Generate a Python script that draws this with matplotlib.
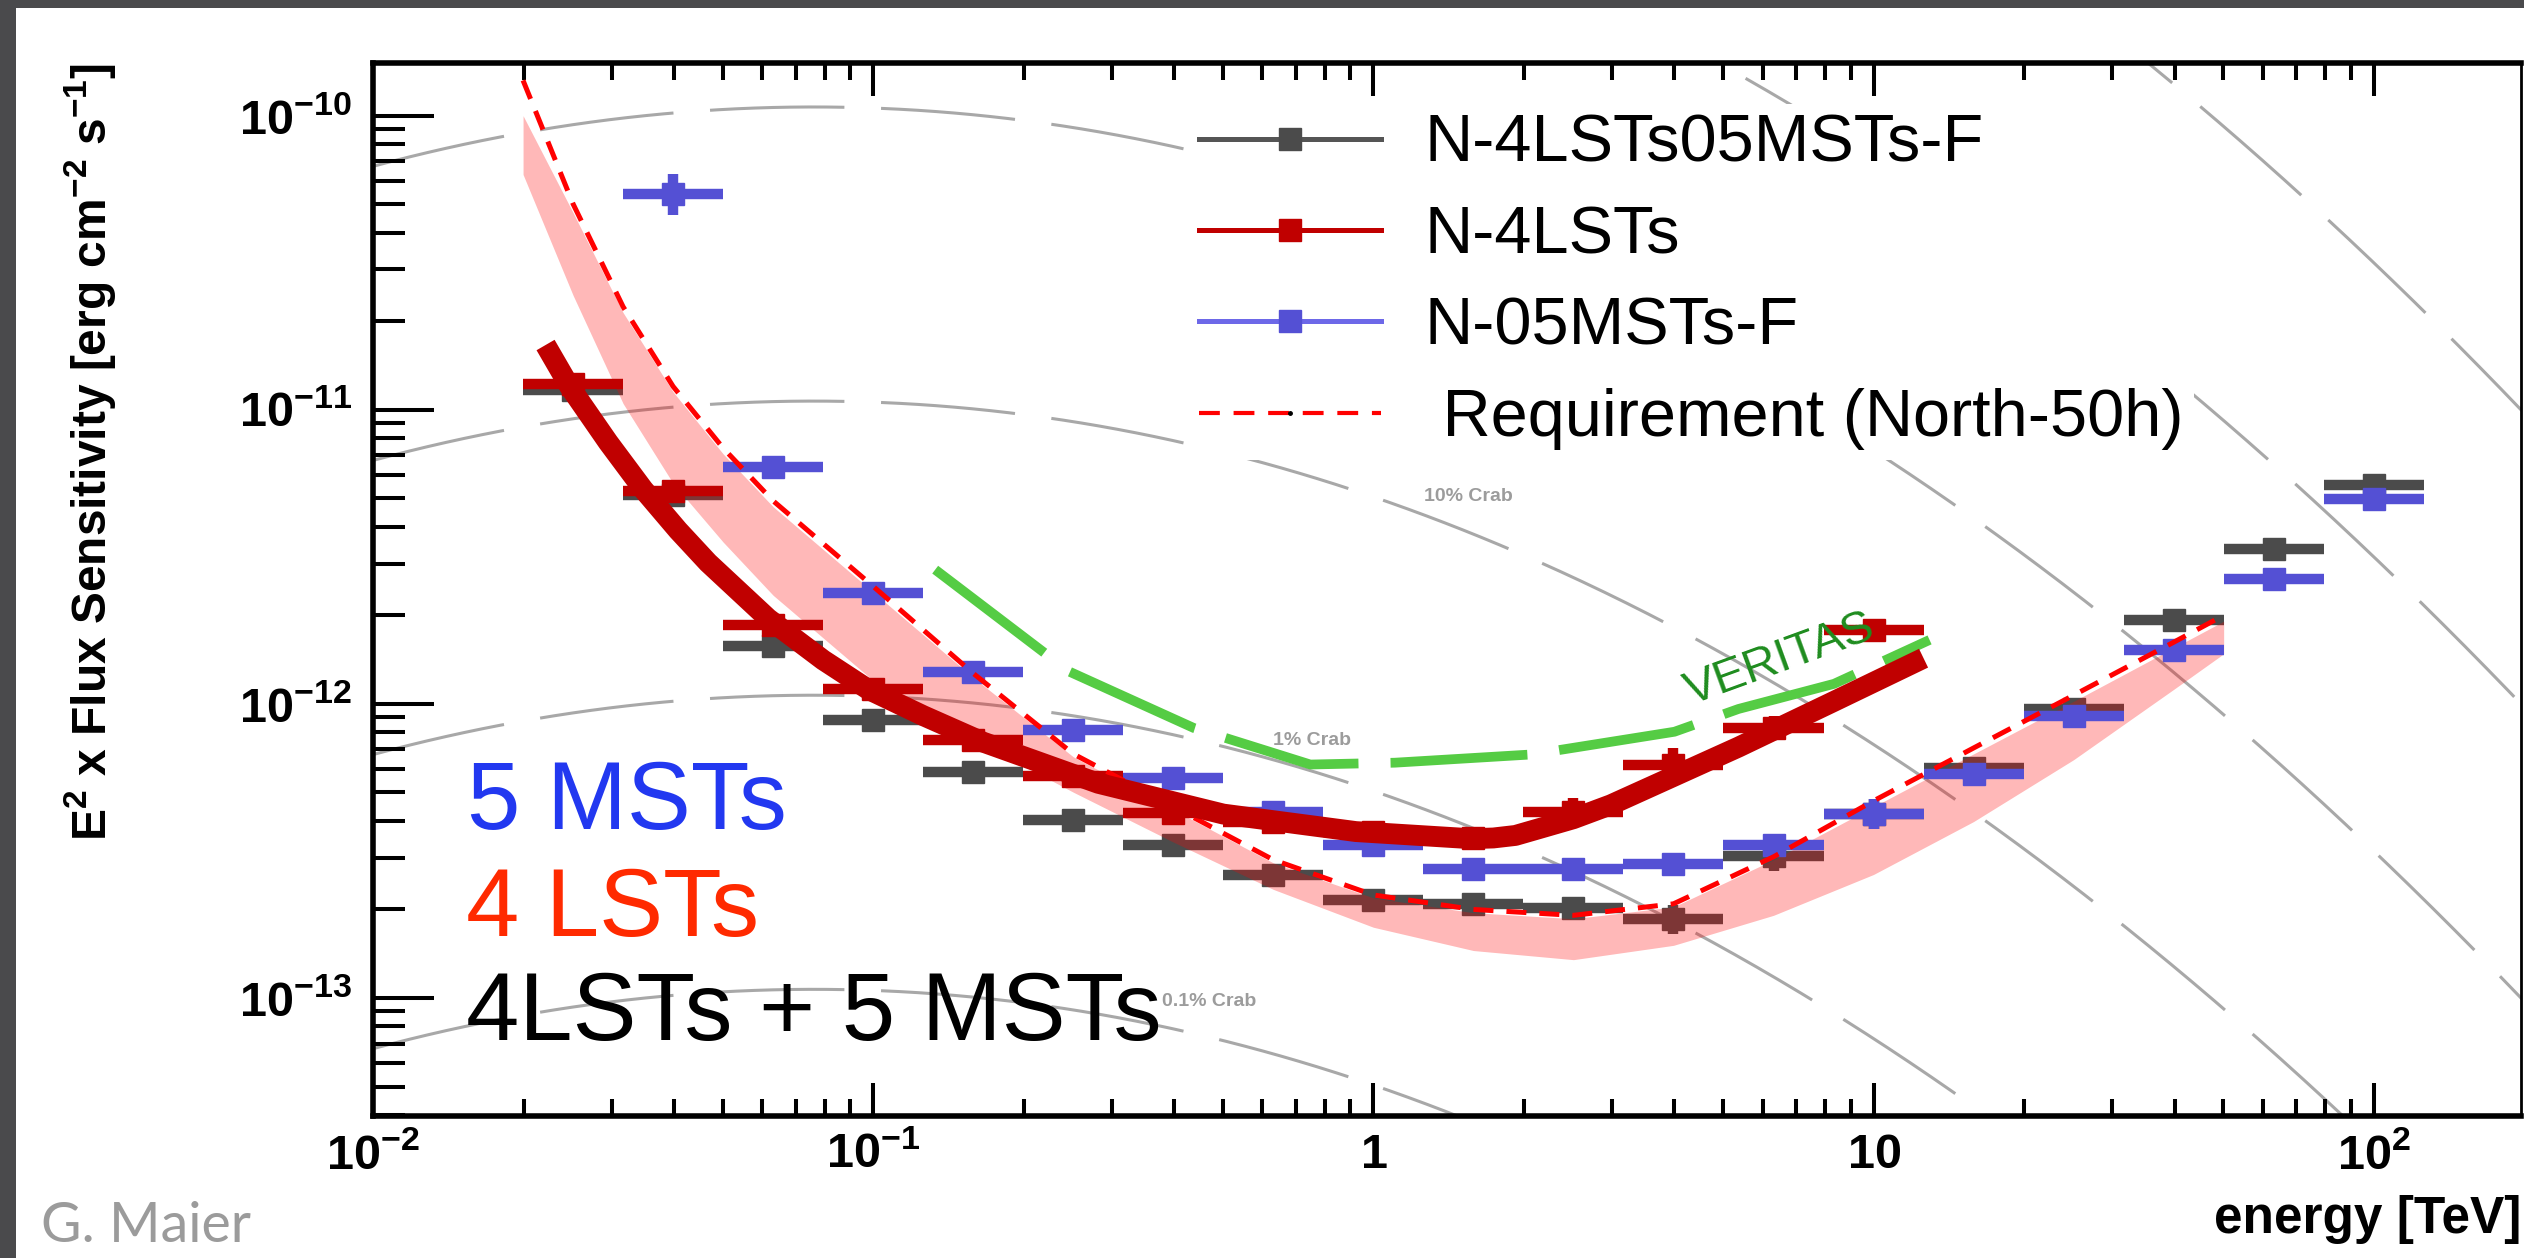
import numpy as np
import matplotlib
matplotlib.use("Agg")
import matplotlib.pyplot as plt
from matplotlib.lines import Line2D
from matplotlib.patches import Rectangle
from matplotlib.ticker import FixedLocator, FixedFormatter, LogLocator, NullFormatter

plt.rcParams["font.family"] = ["Liberation Sans", "DejaVu Sans"]
plt.rcParams["mathtext.fontset"] = "custom"
plt.rcParams["mathtext.rm"] = "Liberation Sans:bold"
plt.rcParams["mathtext.bf"] = "Liberation Sans:bold"
plt.rcParams["mathtext.it"] = "Liberation Sans:bold:italic"
plt.rcParams["mathtext.sf"] = "Liberation Sans:bold"

# ---------------------------------------------------------------- data
# log10 of the energy-bin centres in TeV (bins are 0.2 decades wide)
log_energy_centres = [-1.6, -1.4, -1.2, -1.0, -0.8, -0.6, -0.4, -0.2, 0.0, 0.2,
                      0.4, 0.6, 0.8, 1.0, 1.2, 1.4, 1.6, 1.8, 2.0]
bin_half_width_dex = 0.1

# N-4LSTs05MSTs-F : E^2 x flux sensitivity [erg cm^-2 s^-1]
combined_flux = [1.17e-11, 5.15e-12, 1.57e-12, 8.79e-13, 5.86e-13, 4.02e-13, 3.31e-13,
                 2.61e-13, 2.15e-13, 2.09e-13, 2.02e-13, 1.85e-13, 3.03e-13, 4.22e-13,
                 6.04e-13, 9.62e-13, 1.93e-12, 3.37e-12, 5.56e-12]
combined_err_dex = [0.03, 0.03, 0.03, 0.03, 0.03, 0.03, 0.03, 0.03, 0.03, 0.03,
                    0.03, 0.05, 0.05, 0.05, 0.03, 0.03, 0.03, 0.03, 0.03]

# N-4LSTs (first 14 bins, up to 10 TeV)
lst_flux = [1.22e-11, 5.30e-12, 1.86e-12, 1.12e-12, 7.55e-13, 5.69e-13, 4.27e-13,
            3.98e-13, 3.67e-13, 3.50e-13, 4.28e-13, 6.22e-13, 8.28e-13, 1.78e-12]
lst_err_dex = [0.03, 0.03, 0.03, 0.03, 0.03, 0.03, 0.03, 0.03, 0.03, 0.03,
               0.05, 0.055, 0.04, 0.03]

# N-05MSTs-F (no point in the lowest bin)
mst_flux = [np.nan, 5.41e-11, 6.38e-12, 2.38e-12, 1.28e-12, 8.13e-13, 5.60e-13,
            4.28e-13, 3.32e-13, 2.75e-13, 2.75e-13, 2.86e-13, 3.32e-13, 4.22e-13,
            5.78e-13, 9.06e-13, 1.52e-12, 2.65e-12, 4.97e-12]
mst_err_dex = [np.nan, 0.07, 0.03, 0.03, 0.03, 0.03, 0.03, 0.03, 0.03, 0.03,
               0.03, 0.03, 0.03, 0.05, 0.03, 0.03, 0.03, 0.03, 0.03]

# Requirement (North-50h)
req_log_energy = [-1.70, -1.60, -1.50, -1.40, -1.30, -1.20, -1.00, -0.80, -0.60, -0.40,
                  -0.20, 0.00, 0.20, 0.40, 0.60, 0.80, 1.00, 1.20, 1.40, 1.60, 1.70]
req_flux = [1.318e-10, 5.01e-11, 2.24e-11, 1.20e-11, 7.41e-12, 4.90e-12, 2.51e-12,
            1.27e-12, 6.76e-13, 4.47e-13, 2.95e-13, 2.24e-13, 2.00e-13, 1.91e-13,
            2.09e-13, 3.02e-13, 4.68e-13, 7.08e-13, 1.07e-12, 1.62e-12, 2.00e-12]

# shaded band below the requirement
band_log_energy = [-1.70, -1.60, -1.50, -1.40, -1.30, -1.20, -1.00, -0.80, -0.60, -0.40,
                   -0.20, 0.00, 0.20, 0.40, 0.60, 0.80, 1.00, 1.20, 1.40, 1.60, 1.70]
band_upper = [1.00e-10, 4.68e-11, 2.14e-11, 1.15e-11, 7.08e-12, 4.68e-12, 2.40e-12,
              1.23e-12, 6.61e-13, 4.37e-13, 2.88e-13, 2.19e-13, 1.95e-13, 1.86e-13,
              2.04e-13, 2.95e-13, 4.47e-13, 6.76e-13, 1.02e-12, 1.55e-12, 1.91e-12]
band_lower = [6.31e-11, 2.45e-11, 1.05e-11, 5.62e-12, 3.55e-12, 2.34e-12, 1.20e-12,
              7.59e-13, 5.01e-13, 3.39e-13, 2.34e-13, 1.74e-13, 1.45e-13, 1.35e-13,
              1.51e-13, 1.91e-13, 2.63e-13, 3.98e-13, 6.46e-13, 1.12e-12, 1.48e-12]

# smooth 4-LST sensitivity curve
lst_curve_log_energy = [-1.655, -1.607, -1.53, -1.46, -1.39, -1.33, -1.21, -1.10, -1.01,
                        -0.90, -0.78, -0.55, -0.30, -0.035, 0.195, 0.24, 0.284, 0.33,
                        0.40, 0.475, 0.73, 0.921, 1.10]
lst_curve_flux = [1.66e-11, 1.20e-11, 7.76e-12, 5.37e-12, 3.89e-12, 3.02e-12, 1.95e-12,
                  1.41e-12, 1.12e-12, 9.12e-13, 7.41e-13, 5.37e-13, 4.22e-13, 3.68e-13,
                  3.48e-13, 3.50e-13, 3.57e-13, 3.76e-13, 4.07e-13, 4.54e-13, 7.13e-13,
                  1.02e-12, 1.43e-12]

# VERITAS sensitivity
veritas_log_energy = [-0.876, -0.609, -0.359, -0.126, 0.043, 0.316, 0.602, 0.730, 0.921, 1.112]
veritas_flux = [2.86e-12, 1.29e-12, 8.28e-13, 6.22e-13, 6.31e-13, 6.73e-13, 8.04e-13,
                9.61e-13, 1.17e-12, 1.65e-12]

# Crab Nebula log-parabola spectrum for the fractional-Crab reference curves
crab_norm = 6.0e-10        # cm^-2 s^-1 TeV^-1 at crab_e0
crab_e0 = 0.3              # TeV
crab_index = 2.31
crab_curvature = 0.26
tev_to_erg = 1.602
crab_fractions = [100.0, 10.0, 1.0, 0.1, 0.01, 0.001]
crab_label_text = ["10% Crab", "1% Crab", "0.1% Crab"]
crab_label_energy = [1.55, 0.755, 0.47]
crab_label_flux = [5.06e-12, 7.48e-13, 9.7e-14]

legend_labels = ["N-4LSTs05MSTs-F", "N-4LSTs", "N-05MSTs-F", " Requirement (North-50h)"]
x_tick_values = [1e-2, 1e-1, 1, 10, 100]
x_tick_labels = [r"$10^{-2}$", r"$10^{-1}$", r"$1$", r"$10$", r"$10^{2}$"]
y_tick_values = [1e-13, 1e-12, 1e-11, 1e-10]
y_tick_labels = [r"$10^{-13}$", r"$10^{-12}$", r"$10^{-11}$", r"$10^{-10}$"]

# ---------------------------------------------------------------- style
GRAY = "#4b4b4b"
DARKRED = "#c00000"
BLUE = "#5450d4"
GREEN = "#55cc44"
CRAB_GRAY = "#a8a8a8"

W, H = 2524, 1258
fig = plt.figure(figsize=(W / 100, H / 100), dpi=100)
fig.patch.set_facecolor("white")


def fxp(px):
    return px / W


def fyp(py):
    return 1 - py / H


# dark page border along the top and left
fig.add_artist(Rectangle((0, fyp(8)), 1, 8 / H, transform=fig.transFigure,
                         color="#4a4a4c", lw=0, zorder=0))
fig.add_artist(Rectangle((0, 0), 16 / W, 1, transform=fig.transFigure,
                         color="#4a4a4c", lw=0, zorder=0))

ax = fig.add_axes([fxp(373), fyp(1116), (2521 - 373) / W, (1116 - 63) / H])
ax.set_xscale("log")
ax.set_yscale("log")
ax.set_xlim(1e-2, 197)
ax.set_ylim(3.97e-14, 1.51e-10)
ax.set_axisbelow(False)

# fractional Crab reference curves
e_grid = np.logspace(-2, 2.35, 600)
log_ratio = np.log10(e_grid / crab_e0)
crab_sed = (crab_norm * (e_grid / crab_e0) ** (-crab_index - crab_curvature * log_ratio)
            * e_grid ** 2 * tev_to_erg)
for frac in crab_fractions:
    ax.plot(e_grid, crab_sed * frac, color=CRAB_GRAY, lw=2.2,
            ls=(0, (44, 12)), zorder=1)
for txt, ex, fl in zip(crab_label_text, crab_label_energy, crab_label_flux):
    ax.text(ex, fl, txt, fontsize=14, fontweight="bold", color="#9c9c9c",
            ha="center", va="center", zorder=1.2)


def draw_points(flux, err_dex, color, z):
    n = len(flux)
    le = np.array(log_energy_centres[:n])
    e = 10 ** le
    lo = 10 ** (le - bin_half_width_dex)
    hi = 10 ** (le + bin_half_width_dex)
    f = np.array(flux, dtype=float)
    d = np.array(err_dex, dtype=float)
    ax.errorbar(e, f, xerr=[e - lo, hi - e], yerr=[f - f * 10 ** (-d), f * 10 ** d - f],
                fmt="s", ms=16, color=color, mfc=color, mec=color,
                elinewidth=7.5, capsize=0, zorder=z)


draw_points(combined_flux, combined_err_dex, GRAY, 2)

ax.fill_between(10 ** np.array(band_log_energy), band_lower, band_upper,
                color="#ff0000", alpha=0.28, lw=0, zorder=3)

draw_points(lst_flux, lst_err_dex, DARKRED, 4)
draw_points(mst_flux, mst_err_dex, BLUE, 5)

ax.plot(10 ** np.array(req_log_energy), req_flux, color="#ff0000", lw=3.6,
        ls=(0, (4, 2.6)), zorder=6)

ax.plot(10 ** np.array(veritas_log_energy), veritas_flux, color=GREEN, lw=7,
        ls=(0, (14.1, 3.3)), zorder=7)
ax.text(6.49, 1.41e-12, "VERITAS", rotation=20, rotation_mode="anchor",
        fontsize=34, color="#1e8c1e", ha="center", va="center", zorder=7.5)

ax.plot(10 ** np.array(lst_curve_log_energy), lst_curve_flux, color=DARKRED, lw=15,
        solid_capstyle="butt", solid_joinstyle="round", zorder=8)

# ---------------------------------------------------------------- axes
for sp in ax.spines.values():
    sp.set_linewidth(4)
ax.spines["right"].set_linewidth(2)

ax.xaxis.set_major_locator(FixedLocator(x_tick_values))
ax.xaxis.set_major_formatter(FixedFormatter(x_tick_labels))
ax.xaxis.set_minor_locator(LogLocator(base=10, subs=np.arange(2, 10), numticks=30))
ax.xaxis.set_minor_formatter(NullFormatter())
ax.yaxis.set_major_locator(FixedLocator(y_tick_values))
ax.yaxis.set_major_formatter(FixedFormatter(y_tick_labels))
ax.yaxis.set_minor_locator(LogLocator(base=10, subs=np.arange(2, 10), numticks=30))
ax.yaxis.set_minor_formatter(NullFormatter())

ax.tick_params(axis="x", which="major", direction="in", length=24, width=2.9,
               top=True, bottom=True, pad=12, labelsize=35)
ax.tick_params(axis="x", which="minor", direction="in", length=12, width=2.9,
               top=True, bottom=True)
ax.tick_params(axis="y", which="major", direction="in", length=44, width=2.9,
               left=True, right=False, pad=15, labelsize=35)
ax.tick_params(axis="y", which="minor", direction="in", length=23, width=2.9,
               left=True, right=False)

ax.set_xlabel("energy [TeV]", fontsize=37, fontweight="bold", loc="right")
ax.xaxis.set_label_coords(1.0, -0.075)
ax.set_ylabel(r"E$^{2}$ x Flux Sensitivity [erg cm$^{-2}$ s$^{-1}$]", fontsize=34.5,
              fontweight="bold", loc="top")
ax.yaxis.set_label_coords(-0.1187, 1.0)

# ---------------------------------------------------------------- legend
handles = [
    Line2D([], [], color="#555555", lw=3.6, marker="s", ms=16.5, mfc=GRAY, mec=GRAY),
    Line2D([], [], color=DARKRED, lw=3.6, marker="s", ms=16.5, mfc=DARKRED, mec=DARKRED),
    Line2D([], [], color="#6d68e8", lw=3.6, marker="s", ms=16.5, mfc=BLUE, mec=BLUE),
    Line2D([], [], color="#ff0000", lw=3.0, ls=(0, (5, 3.3)), marker="o", ms=2.5,
           mfc="black", mec="black"),
]
leg = ax.legend(handles, legend_labels, loc="upper left",
                bbox_to_anchor=(fxp(1189), fyp(104)), bbox_transform=fig.transFigure,
                fontsize=48, frameon=True, facecolor="white", edgecolor="none",
                framealpha=1.0, fancybox=False, borderpad=0.15, borderaxespad=0,
                handlelength=2.73, handletextpad=0.645, labelspacing=0.44,
                numpoints=1)
leg.set_zorder(1.8)

# ---------------------------------------------------------------- annotations
fig.text(fxp(467), fyp(829), "5 MSTs", fontsize=69, color="#2238f0",
         ha="left", va="baseline", zorder=10)
fig.text(fxp(466), fyp(936), "4 LSTs", fontsize=69, color="#ff2a00",
         ha="left", va="baseline", zorder=10)
fig.text(fxp(466), fyp(1040), "4LSTs + 5 MSTs", fontsize=69, color="black",
         ha="left", va="baseline", zorder=10)
fig.text(fxp(41), fyp(1242), "G. Maier", fontsize=40, color="#9b9b9b",
         family=["Lato", "Liberation Sans"],
         ha="left", va="baseline", zorder=10)

fig.savefig("out.png", dpi=100)
